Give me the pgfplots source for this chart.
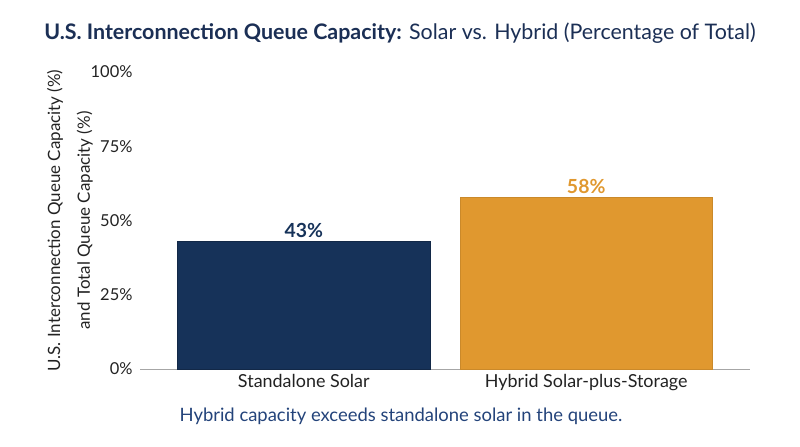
\documentclass[border=0pt]{standalone}
\usepackage{fontspec}
\setmainfont{Lato}
\usepackage{pgfplots}
\pgfplotsset{compat=1.18}
\definecolor{navy}{HTML}{163259}
\definecolor{gold}{HTML}{E0982F}
\definecolor{titlec}{HTML}{1B2F55}
\definecolor{capc}{HTML}{23437A}
\definecolor{txt}{HTML}{222222}
\begin{document}
\begin{tikzpicture}[x=1bp,y=1bp]
\useasboundingbox (0,0) rectangle (800,447);
% title
\node[font=\fontsize{21.5}{25}\selectfont, text=titlec] at (400,414)
  {\textbf{U.S. Interconnection Queue Capacity:} Solar vs. Hybrid (Percentage of Total)};
\begin{axis}[
  at={(140bp,78bp)}, anchor=south west,
  scale only axis,
  width=610bp, height=297bp,
  xmin=-0.58, xmax=1.58,
  ymin=0, ymax=100,
  axis x line*=bottom,
  axis y line*=left,
  y axis line style={draw=none},
  x axis line style={draw=gray!70, line width=0.8bp},
  major tick length=0pt,
  xtick={0,1},
  xticklabels={Standalone Solar, Hybrid Solar-plus-Storage},
  ytick={0,25,50,75,100},
  yticklabels={0\%,25\%,50\%,75\%,100\%},
  tick label style={font=\fontsize{16.5}{19}\selectfont, text=txt},
  xticklabel style={font=\fontsize{18}{21}\selectfont, yshift=-2bp},
  yticklabel style={xshift=-4bp},
  ylabel={U.S. Interconnection Queue Capacity (\%)\\and Total Queue Capacity (\%)},
  ylabel style={font=\fontsize{17}{30}\selectfont, text=txt, align=center, yshift=-9bp},
  ybar, bar width=0.894, bar shift=0pt,
  point meta=explicit symbolic,
  nodes near coords,
  every node near coord/.append style={font=\bfseries\fontsize{19.5}{23}\selectfont, yshift=0bp},
  clip=false,
]
\addplot[fill=navy, draw=navy!80!black, every node near coord/.append style={text=navy}]
  coordinates {(0,43) [43\%]};
\addplot[fill=gold, draw=gold!90!black, every node near coord/.append style={text=gold}]
  coordinates {(1,58) [58\%]};
\end{axis}
\node[font=\fontsize{18.5}{22}\selectfont, text=capc] at (401,31)
  {Hybrid capacity exceeds standalone solar in the queue.};
\end{tikzpicture}
\end{document}
